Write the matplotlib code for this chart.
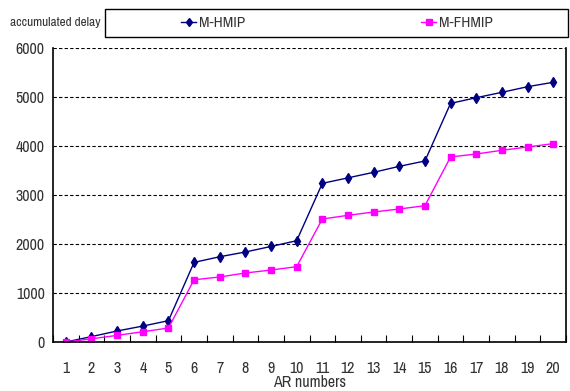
import numpy as np
import matplotlib
matplotlib.use("Agg")
import matplotlib.pyplot as plt
from matplotlib.patches import Rectangle
from matplotlib import font_manager

names = sorted({f.name for f in font_manager.fontManager.ttflist})
narrow = [n for n in names if 'Narrow' in n or 'Condensed' in n]
plt.rcParams['font.family'] = narrow[:1] + ['DejaVu Sans']
plt.rcParams['font.stretch'] = 'condensed'

ar_numbers = list(range(1, 21))
m_hmip = [0, 110, 225, 325, 435, 1625, 1740, 1837, 1950, 2067,
          3238, 3350, 3463, 3585, 3694, 4870, 4986, 5095, 5210, 5300]
m_fhmip = [0, 65, 135, 210, 285, 1270, 1327, 1408, 1469, 1537,
           2510, 2585, 2653, 2714, 2782, 3776, 3837, 3912, 3980, 4048]

txt = '#333333'
fig = plt.figure(figsize=(5.7, 3.91), dpi=100)
ax = fig.add_axes([53 / 570, 1 - 342 / 391, (566 - 53) / 570, (342 - 48) / 391])

l1, = ax.plot(ar_numbers, m_hmip, color='#000080', marker='d', markersize=5,
              linewidth=1.0, label='M-HMIP')
l2, = ax.plot(ar_numbers, m_fhmip, color='#FF00FF', marker='s', markersize=4.5,
              linewidth=1.0, label='M-FHMIP')

ax.set_xlim(0.5, 20.5)
ax.set_ylim(0, 6000)
ax.set_yticks(np.arange(0, 6001, 1000))
ax.yaxis.grid(True, linestyle=(0, (3, 2)), color='black', linewidth=0.8)
ax.set_axisbelow(True)
ax.tick_params(axis='y', length=0, pad=6, labelsize=11.5, labelcolor=txt)

ax.set_xticks(np.arange(0.5, 21, 1))
ax.set_xticklabels([])
ax.set_xticks(ar_numbers, minor=True)
ax.set_xticklabels([str(n) for n in ar_numbers], minor=True)
ax.tick_params(axis='x', which='major', direction='in', length=5, width=0.8)
ax.tick_params(axis='x', which='minor', length=0, pad=14, labelsize=11.5, labelcolor=txt)
ax.set_xlabel('AR numbers', fontsize=11.5, labelpad=-1, color=txt)

for side in ['left', 'bottom', 'right']:
    ax.spines[side].set_linewidth(1.2)
ax.spines['top'].set_visible(False)

fig.text(10 / 570, 1 - 23 / 391, 'accumulated delay', fontsize=9.5, va='center',
         ha='left', color=txt)
fig.patches.append(Rectangle((105 / 570, 1 - 37 / 391), (568 - 105) / 570, 28 / 391,
                             transform=fig.transFigure, fill=False,
                             edgecolor='black', linewidth=1.0))
leg = fig.legend(handles=[l1, l2], loc='center', bbox_to_anchor=(337 / 570, 1 - 23 / 391),
                 ncol=2, frameon=False, fontsize=11, handlelength=1.0,
                 handletextpad=0.2, columnspacing=11.5, markerscale=0.9)
for t in leg.get_texts():
    t.set_color(txt)

fig.savefig('out.png', dpi=100)
